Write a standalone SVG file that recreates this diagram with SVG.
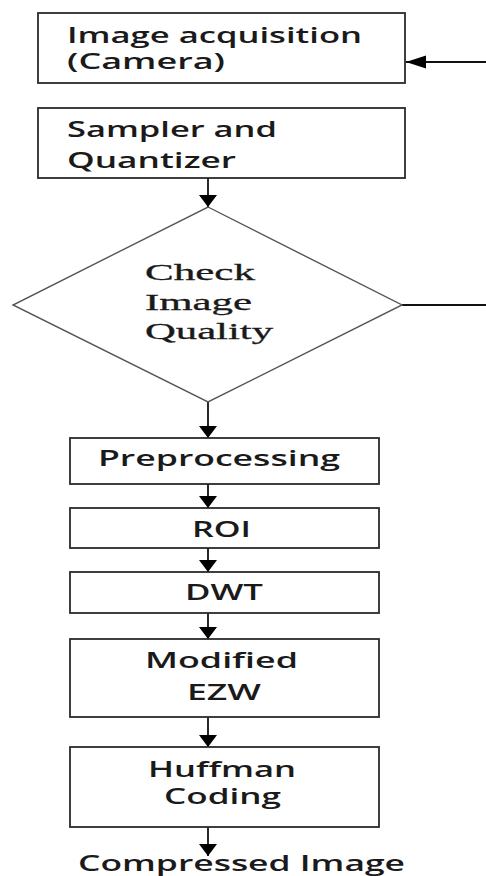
<svg xmlns="http://www.w3.org/2000/svg" width="486" height="876" viewBox="0 0 486 876">
<style>
.box{fill:#fff;stroke:#2a2a2a;stroke-width:1.8}
.dia{fill:#fff;stroke:#555;stroke-width:1.4}
.t{font-family:"Open Sans","Liberation Sans",sans-serif;font-size:21px;font-weight:600;fill:#1a1a1a}
.s{font-family:"Liberation Serif",serif;font-size:23px;fill:#1a1a1a;stroke:#1a1a1a;stroke-width:0.3}
.c{stroke:#111;stroke-width:1.8;fill:none}
</style>
<defs>
<marker id="ad" markerUnits="userSpaceOnUse" markerWidth="18" markerHeight="20" refX="12" refY="9" orient="auto">
<path d="M0,0 L12,9 L0,18 z" fill="#000"/>
</marker>
<marker id="al" markerUnits="userSpaceOnUse" markerWidth="24" markerHeight="16" refX="20" refY="6.5" orient="auto">
<path d="M0,0 L20,6.5 L0,13 z" fill="#000"/>
</marker>
</defs>
<rect width="486" height="876" fill="#fff"/>
<g id="connectors">
<path class="c" d="M486,62 H406" marker-end="url(#al)"/>
<path class="c" d="M208,178 V207" marker-end="url(#ad)"/>
<path class="c" d="M402,305 H486"/>
<path class="c" d="M208,402 V438" marker-end="url(#ad)"/>
<path class="c" d="M208,484 V508" marker-end="url(#ad)"/>
<path class="c" d="M208,548 V572" marker-end="url(#ad)"/>
<path class="c" d="M208,613 V639" marker-end="url(#ad)"/>
<path class="c" d="M208,717 V747" marker-end="url(#ad)"/>
<path class="c" d="M208,827 V856" marker-end="url(#ad)"/>
</g>
<g id="acquisition">
<rect class="box" x="38" y="13" width="367" height="70"/>
<text class="t" x="67" y="43" textLength="295" lengthAdjust="spacingAndGlyphs">Image acquisition</text>
<text class="t" x="67" y="69" textLength="158" lengthAdjust="spacingAndGlyphs">(Camera)</text>
</g>
<g id="sampler">
<rect class="box" x="38" y="108" width="367" height="70"/>
<text class="t" x="67" y="137" textLength="210" lengthAdjust="spacingAndGlyphs">Sampler and</text>
<text class="t" x="67" y="168" textLength="169" lengthAdjust="spacingAndGlyphs">Quantizer</text>
</g>
<g id="check">
<polygon class="dia" points="208,207 402,305 208,402 13,305"/>
<text class="s" x="145" y="280" textLength="110" lengthAdjust="spacingAndGlyphs">Check</text>
<text class="s" x="145" y="310" textLength="107" lengthAdjust="spacingAndGlyphs">Image</text>
<text class="s" x="145" y="339" textLength="128" lengthAdjust="spacingAndGlyphs">Quality</text>
</g>
<g id="preprocessing">
<rect class="box" x="70" y="438" width="309" height="46"/>
<text class="t" x="219" y="466" text-anchor="middle" textLength="242" lengthAdjust="spacingAndGlyphs">Preprocessing</text>
</g>
<g id="roi">
<rect class="box" x="70" y="508" width="309" height="40"/>
<text class="t" x="221.5" y="537" text-anchor="middle" textLength="59" lengthAdjust="spacingAndGlyphs">ROI</text>
</g>
<g id="dwt">
<rect class="box" x="70" y="572" width="309" height="41"/>
<text class="t" x="224" y="600" text-anchor="middle" textLength="78" lengthAdjust="spacingAndGlyphs">DWT</text>
</g>
<g id="ezw">
<rect class="box" x="70" y="639" width="309" height="78"/>
<text class="t" x="221.5" y="668" text-anchor="middle" textLength="153" lengthAdjust="spacingAndGlyphs">Modified</text>
<text class="t" x="224" y="700" text-anchor="middle" textLength="74" lengthAdjust="spacingAndGlyphs">EZW</text>
</g>
<g id="huffman">
<rect class="box" x="70" y="747" width="309" height="80"/>
<text class="t" x="222" y="777" text-anchor="middle" textLength="148" lengthAdjust="spacingAndGlyphs">Huffman</text>
<text class="t" x="222.5" y="804" text-anchor="middle" textLength="117" lengthAdjust="spacingAndGlyphs">Coding</text>
</g>
<g id="output">
<text class="t" x="241.5" y="871" text-anchor="middle" textLength="327" lengthAdjust="spacingAndGlyphs">Compressed Image</text>
</g>
</svg>
